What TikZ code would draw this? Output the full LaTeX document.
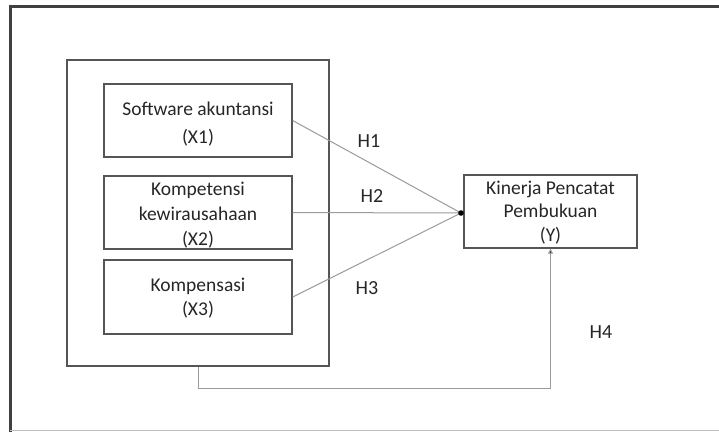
\documentclass[tikz,border=0pt]{standalone}
\usepackage{fontspec}
\setmainfont{Carlito}
\usetikzlibrary{arrows.meta}
\definecolor{boxc}{HTML}{555555}
\definecolor{linec}{HTML}{9A9A9A}
\definecolor{txtc}{HTML}{262626}
\begin{document}
\begin{tikzpicture}[x=1pt,y=-1pt,
  txt/.style={font=\fontsize{19.5}{23.5}\selectfont, text=txtc, align=center, inner sep=0pt},
  varbox/.style={draw=boxc, line width=1.4pt, inner sep=0pt},
  conn/.style={draw=linec, line width=1pt},
  hlab/.style={font=\fontsize{20}{24}\selectfont, text=txtc}]
\useasboundingbox (0,0) rectangle (719,432);
% frame (cropped screenshot edges)
\draw[line width=3pt, draw=black!75] (10,432) -- (10,6) -- (719,6);
\draw[line width=0.8pt, draw=black!25] (10,430.5) -- (719,430.5);
% group box
\node[draw=boxc, line width=1.2pt, minimum width=262pt, minimum height=306pt, inner sep=0pt] (G) at (198,213) {};
\node[varbox, minimum width=188pt, minimum height=73pt] (X1) at (198,120.5) {};
\node[varbox, minimum width=188pt, minimum height=73pt] (X2) at (198,212.5) {};
\node[varbox, minimum width=188pt, minimum height=74pt] (X3) at (198,297) {};
\node[varbox, minimum width=173pt, minimum height=73pt] (Y) at (550.5,211.5) {};
\node[txt, font=\fontsize{19.5}{28}\selectfont] (X1t) at (198,124) {Software akuntansi\\(X1)};
\node[txt, font=\fontsize{19.5}{25}\selectfont] (X2t) at (198,215) {Kompetensi\\kewirausahaan\\(X2)};
\node[txt, font=\fontsize{19.5}{24}\selectfont] (X3t) at (198,298) {Kompensasi\\(X3)};
\node[txt, font=\fontsize{19.5}{23.5}\selectfont] (Yt) at (550.5,212.5) {Kinerja Pencatat\\Pembukuan\\(Y)};
\coordinate (D) at (461,213);
\draw[conn] (X1.east) -- (D);
\draw[conn] (X2.east) -- (D);
\draw[conn] (X3.east) -- (D);
\fill[black] (D) circle (2.8pt);
\draw[conn, -{Triangle[length=5pt,width=5pt,fill=black]}] (G.south) -- ++(0,22) -| (Y.south);
\node[hlab] (H1) at (369,141) {H1};
\node[hlab] (H2) at (372,196) {H2};
\node[hlab] (H3) at (367,288) {H3};
\node[hlab] (H4) at (601,332) {H4};
\end{tikzpicture}
\end{document}
